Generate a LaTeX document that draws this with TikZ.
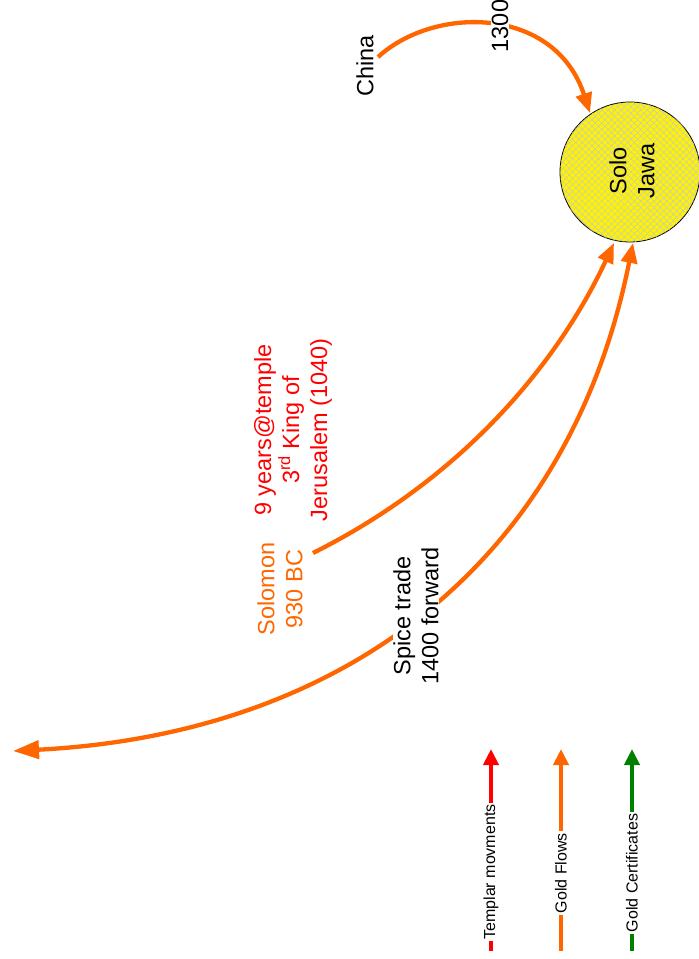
\documentclass[tikz,border=0pt]{standalone}
\usepackage{fontspec}
\setmainfont{Liberation Sans}
\usetikzlibrary{arrows.meta,patterns.meta}
\definecolor{flow}{RGB}{255,102,0}
\definecolor{templar}{RGB}{255,0,0}
\definecolor{cert}{RGB}{0,128,0}
\definecolor{hatch}{RGB}{192,200,214}
\begin{document}
\begin{tikzpicture}[x=1pt,y=-1pt,
  bigtext/.style={font=\fontsize{23.5}{28}\selectfont, align=center, inner sep=1pt, rotate=90},
  legtext/.style={font=\fontsize{16}{19}\selectfont, inner sep=1.5pt, rotate=90, fill=white},
  flowline/.style={draw=flow, line width=4.3pt, -{Triangle[length=20pt,width=16pt]}},
  legline/.style={line width=4pt, -{Triangle[length=16pt,width=15pt]}},
  hub/.style={circle, draw=black, line width=0.8pt, minimum size=140pt, inner sep=0pt,
    preaction={fill=yellow},
    pattern={Lines[angle=45,distance=4.6pt,line width=0.5pt]}, pattern color=hatch,
    postaction={pattern={Lines[angle=-45,distance=4.6pt,line width=0.5pt]}, pattern color=hatch}}
]
\useasboundingbox (0,0) rectangle (699,959);

% hub
\node[hub] (solo) at (630,172) {};
\node[bigtext] (solotext) at (632,171) {Solo\\Jawa};

% coordinates
\coordinate (chinaS) at (378,57);
\coordinate (chinaE) at (590,113);
\coordinate (solS) at (313,553);
\coordinate (solE) at (614,243);
\coordinate (spiceW) at (13,751);
\coordinate (spiceE) at (633,243);

% flows
\draw[flowline] (chinaS) .. controls (435,5) and (555,6) .. (chinaE);
\draw[flowline] (solS) .. controls (463,478) and (558,363) .. (solE);
\draw[draw=flow, line width=4.3pt, {Triangle[length=26pt,width=18pt]}-{Triangle[length=20pt,width=16pt]}]
  (spiceW) .. controls (343,734) and (569,563) .. (spiceE);

% labels
\node[bigtext] (china) at (365,66) {China};
\node[bigtext, fill=white] (y1300) at (500,26) {1300};
\node[bigtext, text=templar] (temple) at (293,430) {9 years@temple\\3\textsuperscript{rd} King of\\Jerusalem (1040)};
\node[bigtext, text=flow] (solomon) at (280,589) {Solomon\\930 BC};
\node[bigtext, fill=white, inner sep=0.5pt] (spice) at (416,616) {Spice trade\\1400 forward};

% legend
\coordinate (l1s) at (491,951); \coordinate (l1e) at (491,749);
\coordinate (l2s) at (561,951); \coordinate (l2e) at (561,749);
\coordinate (l3s) at (632,951); \coordinate (l3e) at (632,749);
\draw[legline, draw=templar, templar] (l1s) -- (l1e);
\draw[legline, draw=flow, flow] (l2s) -- (l2e);
\draw[legline, draw=cert, cert] (l3s) -- (l3e);
\node[legtext] (leg1) at (491,872) {Templar movments};
\node[legtext] (leg2) at (561,873) {Gold Flows};
\node[legtext] (leg3) at (632,873) {Gold Certificates};
\end{tikzpicture}
\end{document}
